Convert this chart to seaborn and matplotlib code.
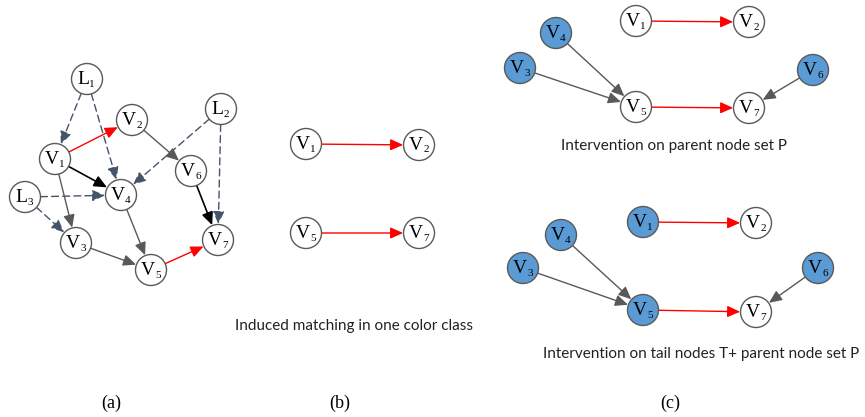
import matplotlib
matplotlib.use("Agg")
import matplotlib.pyplot as plt
import seaborn as sns
import pandas as pd

sns.set_theme(style="white")

# ---------------- data ----------------
# panel (a)
a_names = ["L1", "L2", "L3", "V1", "V2", "V3", "V4", "V5", "V6", "V7"]
a_x = [87, 221, 25, 55, 132, 76, 121, 151, 191, 218]
a_y = [79, 109, 197, 159, 120, 243, 195, 270, 171, 240]
a_fill = ["w"] * 10
a_edges = [("L1", "V1", "dash"), ("L1", "V4", "dash"), ("L2", "V4", "dash"),
           ("L2", "V7", "dash"), ("L3", "V4", "dash"), ("L3", "V3", "dash"),
           ("V1", "V2", "red"), ("V1", "V4", "black"), ("V1", "V3", "gray"),
           ("V2", "V6", "gray"), ("V4", "V5", "gray"), ("V3", "V5", "gray"),
           ("V6", "V7", "black"), ("V5", "V7", "red")]

# panel (b)
b_names = ["V1", "V2", "V5", "V7"]
b_x = [306, 419, 306, 419]
b_y = [144, 145, 233, 233]
b_fill = ["w"] * 4
b_edges = [("V1", "V2", "red"), ("V5", "V7", "red")]

# panel (c) top
c1_names = ["V1", "V2", "V3", "V4", "V5", "V6", "V7"]
c1_x = [636, 749, 520, 556, 636, 813, 749]
c1_y = [21, 22, 68, 33, 107, 70, 108]
c1_fill = ["w", "w", "b", "b", "w", "b", "w"]
c_edges = [("V1", "V2", "red"), ("V4", "V5", "gray"), ("V3", "V5", "gray"),
           ("V6", "V7", "gray"), ("V5", "V7", "red")]

# panel (c) bottom
c2_names = ["V1", "V2", "V3", "V4", "V5", "V6", "V7"]
c2_x = [643, 756, 523, 561, 643, 818, 756]
c2_y = [222, 223, 268, 235, 310, 268, 312]
c2_fill = ["b", "w", "b", "b", "b", "b", "w"]

captions = ["Induced matching in one color class",
            "Intervention on parent node set P",
            "Intervention on tail nodes T+ parent node set P"]
panel_labels = ["(a)", "(b)", "(c)"]

# ---------------- drawing ----------------
W, H = 865, 417
fig = plt.figure(figsize=(W / 100, H / 100), dpi=100)
ax = fig.add_axes([0, 0, 1, 1])

R = 15.5  # node radius in px
R_PT = R * 72 / 100

edge_style = {
    "dash": dict(color="#44546A", ls=(0, (5, 3)), lw=1.0),
    "red": dict(color="#FF0000", ls="-", lw=1.0),
    "black": dict(color="#000000", ls="-", lw=1.2),
    "gray": dict(color="#595959", ls="-", lw=1.0),
}
fills = {"w": "#FFFFFF", "b": "#5B9BD5"}


def draw_graph(names, xs, ys, fl, edges):
    df = pd.DataFrame({"name": names, "x": xs, "y": ys, "fill": fl})
    pos = {n: (x, y) for n, x, y in zip(names, xs, ys)}
    for s, t, kind in edges:
        st = edge_style[kind]
        ax.annotate("", xy=pos[t], xytext=pos[s],
                    arrowprops=dict(arrowstyle="-|>,head_length=0.85,head_width=0.38",
                                    color=st["color"], lw=st["lw"], ls=st["ls"],
                                    shrinkA=R_PT, shrinkB=R_PT + 0.3,
                                    mutation_scale=9), zorder=1)
    sns.scatterplot(data=df, x="x", y="y", hue="fill", palette=fills,
                    s=(2 * R_PT) ** 2, edgecolor="#595959", linewidth=1.0,
                    legend=False, ax=ax, zorder=3)
    for n, x, y in zip(names, xs, ys):
        sub_dx = 5 if n[0] == "L" else 7
        ax.text(x - 3.5, y + 0.5, n[0], ha="center", va="center", fontsize=14,
                family="Liberation Serif", color="#000000", zorder=4)
        ax.text(x + sub_dx, y + 5, n[1], ha="center", va="center", fontsize=8,
                family="Liberation Serif", color="#000000", zorder=4)


draw_graph(a_names, a_x, a_y, a_fill, a_edges)
draw_graph(b_names, b_x, b_y, b_fill, b_edges)
draw_graph(c1_names, c1_x, c1_y, c1_fill, c_edges)
draw_graph(c2_names, c2_x, c2_y, c2_fill, c_edges)

ax.set_xlim(0, W)
ax.set_ylim(H, 0)
ax.axis("off")

cap_font = dict(family="Lato", fontsize=11, color="#222222", ha="center", va="center")
ax.text(354, 326, captions[0], **cap_font)
ax.text(674, 146, captions[1], **cap_font)
ax.text(701, 354, captions[2], **cap_font)

lab_font = dict(family="Liberation Serif", fontsize=13, color="#000000", ha="center", va="center")
ax.text(111, 403, panel_labels[0], **lab_font)
ax.text(340, 403, panel_labels[1], **lab_font)
ax.text(670, 403, panel_labels[2], **lab_font)

fig.savefig("out.png", dpi=100, facecolor="white")
